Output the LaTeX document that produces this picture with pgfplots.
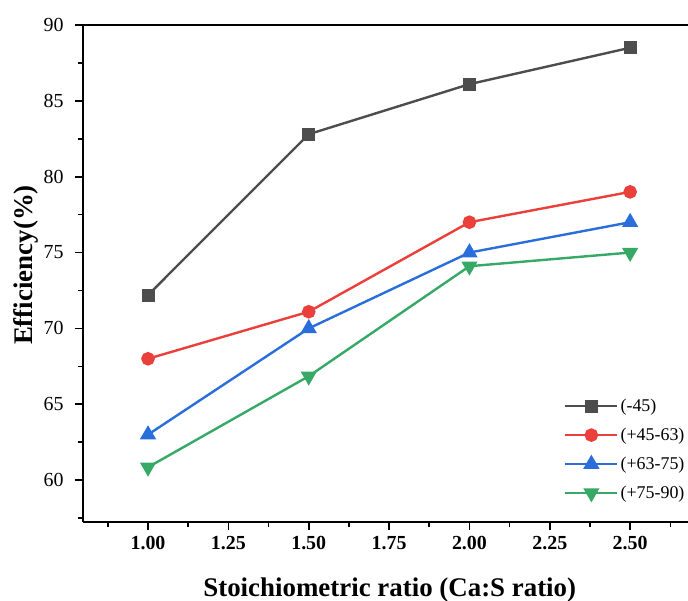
\documentclass[border=0pt]{standalone}
\usepackage{fontspec}
\setmainfont{Liberation Serif}
\usepackage{pgfplots}
\pgfplotsset{compat=1.18}
\definecolor{cA}{HTML}{4D4D4D}
\definecolor{cB}{HTML}{EA3F3A}
\definecolor{cC}{HTML}{2A6EDC}
\definecolor{cD}{HTML}{36A966}
\begin{document}
\begin{tikzpicture}
\begin{axis}[
  scale only axis,
  width=605bp, height=497bp,
  xmin=0.7977, xmax=2.68,
  ymin=57.24, ymax=90,
  axis x line=box, axis y line=left,
  axis line style={-, line width=1.8bp, black},
  xtick={1,1.25,...,2.5},
  minor xtick={0.875,1.125,...,2.7},
  ytick={60,65,...,90},
  minor ytick={57.5,62.5,...,87.5},
  tick align=outside,
  xtick pos=bottom, ytick pos=left,
  major tick length=8bp, minor tick length=5bp,
  every tick/.style={black, line width=1.6bp},
  /pgf/number format/assume math mode=true,
  xticklabel style={/pgf/number format/.cd, fixed, fixed zerofill, precision=2, /tikz/.cd, font=\fontsize{20}{24}\selectfont\bfseries, yshift=-3bp},
  yticklabel style={/pgf/number format/.cd, fixed, precision=0, /tikz/.cd, font=\fontsize{20}{24}\selectfont, xshift=-8bp},
  xlabel={Stoichiometric ratio (Ca:S ratio)},
  ylabel={Efficiency(\%)},
  label style={font=\fontsize{27}{31}\selectfont\bfseries},
  xlabel style={at={(axis description cs:0.507,-0.1368)}, anchor=center},
  ylabel style={at={(axis description cs:-0.094,0.517)}, anchor=center},
  legend style={draw=none, fill=none, at={(axis description cs:0.795,0.2515)}, anchor=north west,
    font=\fontsize{18}{21}\selectfont, row sep=11bp, inner sep=0pt,
    nodes={inner sep=2bp}},
  legend cell align=left,
  legend image code/.code={\draw[mark repeat=2,mark phase=2,#1] plot coordinates {(0bp,0bp)(26bp,0bp)(52bp,0bp)};},
]
\addplot[cA, line width=2.4bp, mark=square*, mark size=5.3bp] coordinates {(1.0,72.2) (1.5,82.8) (2.0,86.1) (2.5,88.5)};
\addlegendentry{(-45)}
\addplot[cB, line width=2.4bp, mark=*, mark size=5.6bp] coordinates {(1.0,68.0) (1.5,71.1) (2.0,77.0) (2.5,79.0)};
\addlegendentry{(+45-63)}
\addplot[cC, line width=2.4bp, mark=triangle*, mark size=7bp] coordinates {(1.0,63.0) (1.5,70.0) (2.0,75.0) (2.5,77.0)};
\addlegendentry{(+63-75)}
\addplot[cD, line width=2.4bp, mark=triangle*, mark options={rotate=180}, mark size=7bp] coordinates {(1.0,60.85) (1.5,66.85) (2.0,74.1) (2.5,75.0)};
\addlegendentry{(+75-90)}
\end{axis}
\pgfresetboundingbox
\path[use as bounding box] ([xshift=-83bp,yshift=-79bp]current axis.south west) rectangle ([yshift=25bp]current axis.north east);
\end{tikzpicture}
\end{document}
